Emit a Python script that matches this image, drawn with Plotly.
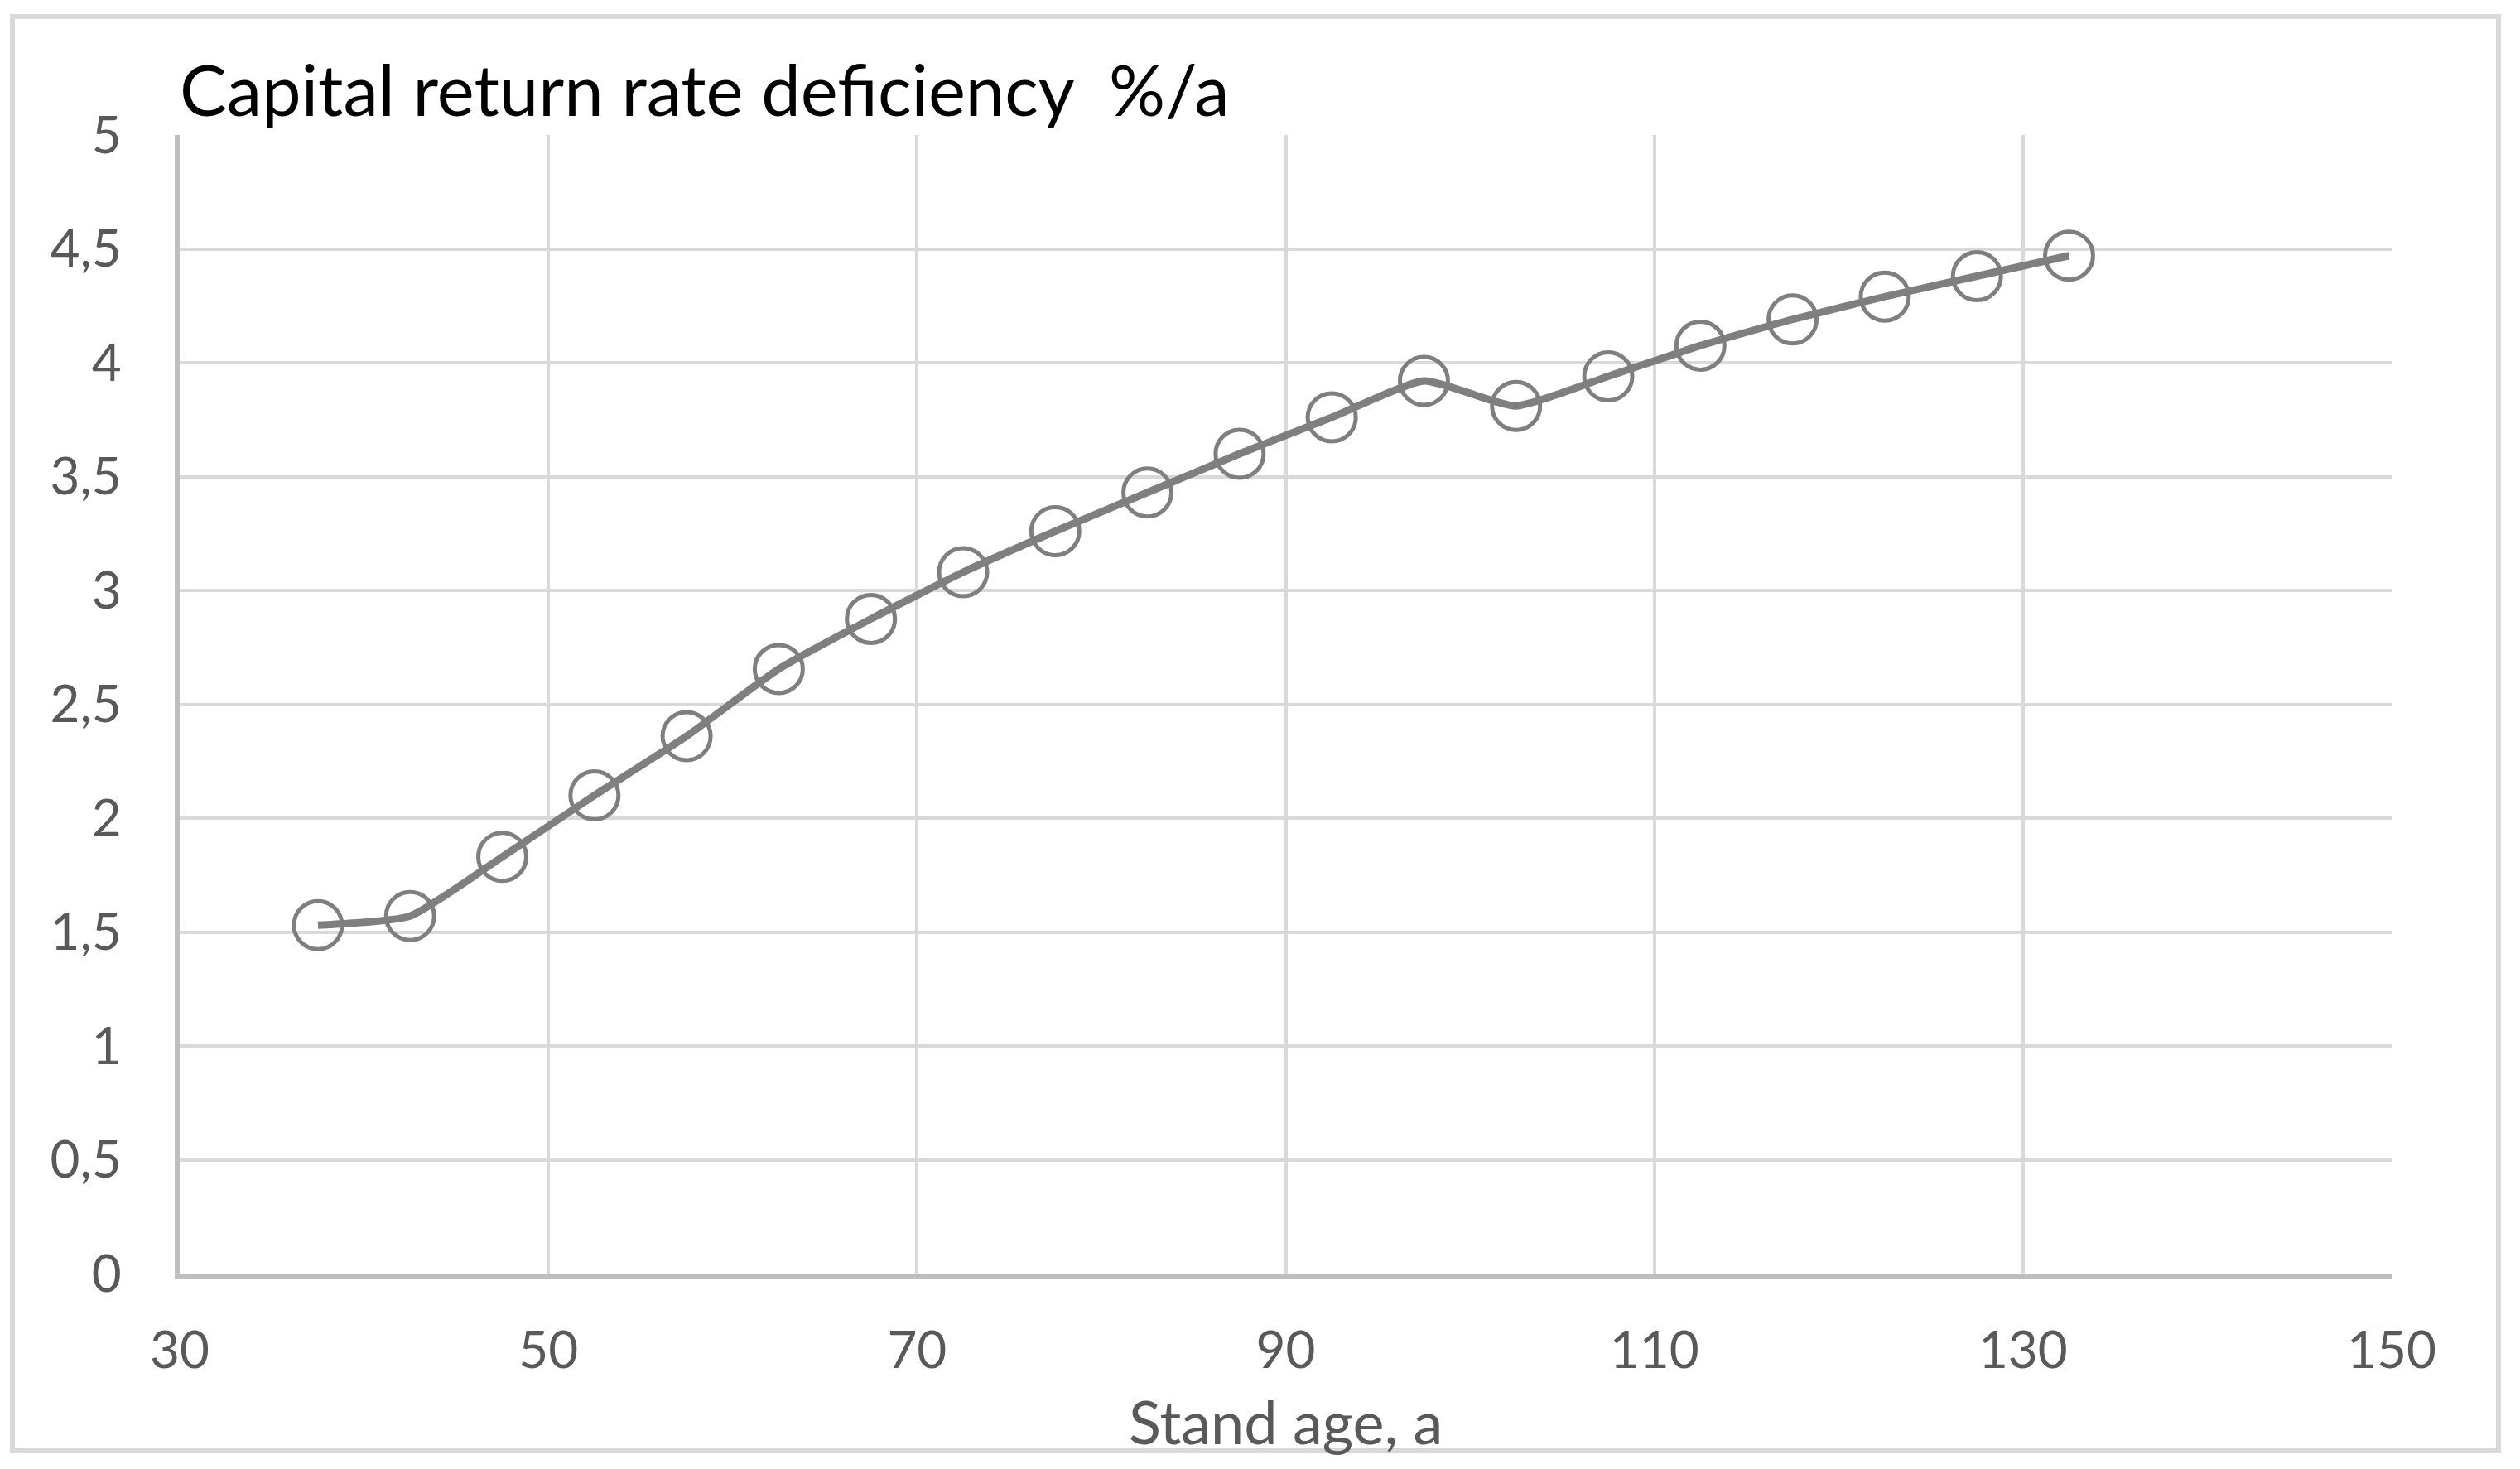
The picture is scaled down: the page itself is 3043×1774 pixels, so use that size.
import plotly.graph_objects as go

# ---- data ----
stand_age = [37.5, 42.5, 47.5, 52.5, 57.5, 62.5, 67.5, 72.5, 77.5, 82.5,
             87.5, 92.5, 97.5, 102.5, 107.5, 112.5, 117.5, 122.5, 127.5, 132.5]
deficiency = [1.53, 1.57, 1.83, 2.10, 2.36, 2.655, 2.875, 3.08, 3.26, 3.43,
              3.60, 3.76, 3.92, 3.81, 3.94, 4.075, 4.19, 4.29, 4.38, 4.47]

x_ticks = [30, 50, 70, 90, 110, 130, 150]
y_ticks = [0, 0.5, 1, 1.5, 2, 2.5, 3, 3.5, 4, 4.5, 5]
y_tick_labels = ["0", "0,5", "1", "1,5", "2", "2,5", "3", "3,5", "4", "4,5", "5"]

title_text = "Capital return rate deficiency  %/a"
x_title = "Stand age, a"

# ---- figure ----
W, H = 3043, 1774
L, R, T, B = 217, W - 2888, 163, H - 1538
pw = W - L - R
ph = H - T - B

fig = go.Figure()
fig.add_trace(go.Scatter(
    x=stand_age, y=deficiency, mode="lines+markers",
    line=dict(color="#7f7f7f", width=9, shape="spline", smoothing=0.5),
    marker=dict(symbol="circle-open", size=58, color="#7f7f7f",
                line=dict(color="#7f7f7f", width=5)),
    showlegend=False, hoverinfo="x+y",
))

font_family = "Lato, 'Open Sans', sans-serif"
fig.update_layout(
    width=W, height=H, autosize=False,
    margin=dict(l=L, r=R, t=T, b=B),
    paper_bgcolor="white", plot_bgcolor="white",
    font=dict(family=font_family, color="#595959", size=62),
    title=dict(text=title_text, xref="paper", x=0, xanchor="left",
               yref="container", y=1 - 110 / H, yanchor="middle",
               font=dict(family=font_family, color="#000000", size=85)),
    xaxis=dict(range=[30, 150], tickvals=x_ticks, showgrid=True,
               gridcolor="#d9d9d9", gridwidth=4, showline=True,
               linecolor="#bfbfbf", linewidth=6, ticks="", zeroline=False,
               ticklabelstandoff=34,
               tickfont=dict(size=62, color="#595959")),
    yaxis=dict(range=[0, 5], tickvals=y_ticks, ticktext=y_tick_labels,
               showgrid=True, gridcolor="#d9d9d9", gridwidth=4,
               showline=True, linecolor="#bfbfbf", linewidth=6,
               ticks="", zeroline=False, ticklabelstandoff=52,
               tickfont=dict(size=62, color="#595959")),
)

# x-axis title (placed as annotation so it can sit close to the tick labels)
fig.add_annotation(text=x_title, xref="paper", x=0.5, xanchor="center",
                   yref="paper", y=(H - B - 1716) / ph, yanchor="middle",
                   showarrow=False, font=dict(size=72, color="#595959"))

# outer chart-area frame
fig.add_shape(type="rect", xref="paper", yref="paper",
              x0=(15 - L) / pw, x1=(3017 - L) / pw,
              y0=(H - B - 1752) / ph, y1=(H - B - 20) / ph,
              line=dict(color="#d9d9d9", width=6), layer="below")

fig.write_html("out.html", config={"displayModeBar": False},
               post_script="document.body.style.margin='0';document.body.style.overflow='hidden';")
